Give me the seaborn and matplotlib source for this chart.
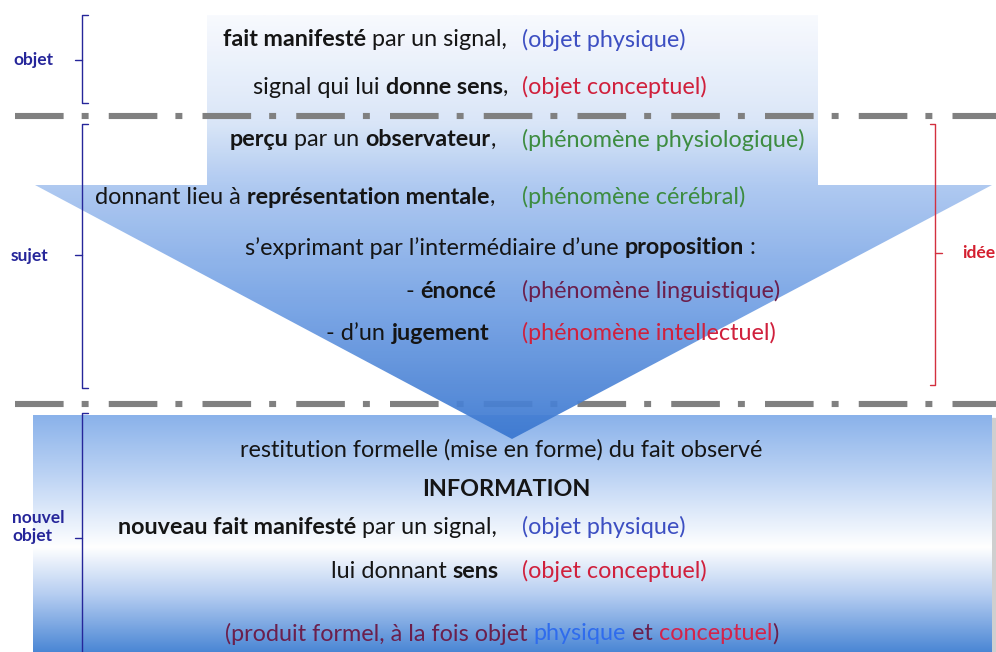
import matplotlib
matplotlib.use("Agg")
import numpy as np
import matplotlib.pyplot as plt
import seaborn as sns
from matplotlib.colors import LinearSegmentedColormap
from matplotlib.patches import Polygon, Rectangle

# --- content -------------------------------------------------------------
DARK = "#151515"
BLUE = "#3d4fc2"
RED = "#d0203c"
GREEN = "#3d8c40"
MAROON = "#6b1f4c"

left_parts = [
    [("fait manifesté", "bold"), (" par un signal,", "normal")],
    [("signal qui lui ", "normal"), ("donne sens", "bold"), (",", "normal")],
    [("perçu", "bold"), (" par un ", "normal"), ("observateur", "bold"), (",", "normal")],
    [("donnant lieu à ", "normal"), ("représentation mentale", "bold"), (",", "normal")],
    [("- ", "normal"), ("énoncé", "bold")],
    [("- d\u2019un ", "normal"), ("jugement", "bold")],
    [("nouveau fait manifesté", "bold"), (" par un signal,", "normal")],
    [("lui donnant ", "normal"), ("sens", "bold")],
]
right_text = [
    "(objet physique)",
    "(objet conceptuel)",
    "(phénomène physiologique)",
    "(phénomène cérébral)",
    "(phénomène linguistique)",
    "(phénomène intellectuel)",
    "(objet physique)",
    "(objet conceptuel)",
]
right_colors = [BLUE, RED, GREEN, GREEN, MAROON, RED, BLUE, RED]

proposition_line = [("s\u2019exprimant par l\u2019intermédiaire d\u2019une ", "normal"),
                    ("proposition", "bold"), (" :", "normal")]
restitution_line = "restitution formelle (mise en forme) du fait observé"
information_line = "INFORMATION"
produit_line = [("(produit formel, à la fois objet ", MAROON), ("physique", "#2f6ced"),
                (" et ", MAROON), ("conceptuel", "#d4234a"), (")", MAROON)]

side_labels = ["objet", "sujet", "nouvel\nobjet"]
idea_label = "idée"

# --- layout (pixels) -----------------------------------------------------
W, H = 996, 652
FS = 16.8
LFS = 12.5
row_y = [40, 87, 140, 197, 291, 333, 527, 571]
row_right_edge = [507, 508, 496, 495, 496, 489, 497, 499]
col2_x = 522

sns.set_theme(style="white")
plt.rcParams["font.family"] = ["Lato", "DejaVu Sans"]
plt.rcParams["lines.scale_dashes"] = False

fig = plt.figure(figsize=(W / 100, H / 100), dpi=100)
ax = fig.add_axes([0, 0, 1, 1])
ax.set_axis_off()
renderer = fig.canvas.get_renderer()


def gradient(stops, y0, y1, x0, x1, clip, z, alpha=1.0):
    cmap = LinearSegmentedColormap.from_list("g", stops)
    img = cmap(np.linspace(0, 1, 256))[:, None, :3]
    im = ax.imshow(img, origin="lower", extent=(x0, x1, y0, y1),
                   aspect="auto", zorder=z, alpha=alpha, interpolation="bilinear")
    im.set_clip_path(clip)
    return im


# bottom box (with a faint shadow)
ax.add_patch(Rectangle((36, 418), 959, 236, color="#cfcfcf", zorder=1))
box = Rectangle((33, 415), 959, 240, facecolor="none", edgecolor="none", zorder=2)
ax.add_patch(box)
gradient([(0.0, "#8ab2ea"), (0.25, "#bcd3f4"), (0.55, "#ffffff"),
          (0.75, "#b5cdf1"), (1.0, "#4583d3")], 415, 655, 33, 992, box, 2)

# arrow
arrow_pts = [(207, 15), (818, 15), (818, 185), (992, 185), (512, 439),
             (35, 185), (207, 185)]
arrow = Polygon(arrow_pts, closed=True, facecolor="none", edgecolor="none", zorder=4)
ax.add_patch(arrow)
gradient([(0.0, "#f8fafe"), (0.25, "#d8e5f8"), (0.40, "#aac6f0"),
          (0.65, "#79a5e6"), (1.0, "#3a77d0")], 15, 439, 35, 992, arrow, 4, alpha=0.93)

# dash-dot separators
sep_style = (0, (35, 13, 5, 14.5))
sns.lineplot(x=[15, W], y=[116, 116], ax=ax, color="#808080", linewidth=4.4,
             linestyle=sep_style, solid_capstyle="butt", zorder=6)
sns.lineplot(x=[15, W], y=[404, 404], ax=ax, color="#808080", linewidth=4.4,
             linestyle=sep_style, solid_capstyle="butt", zorder=3)

# brackets
NAVY = "#26269a"
for top, bot, mid in [(15, 103, 60), (124, 388, 255), (413, 660, 538)]:
    ax.plot([88, 82, 82, 88], [top, top, bot, bot], color=NAVY, lw=1.0, zorder=7)
    ax.plot([75, 82], [mid, mid], color=NAVY, lw=1.0, zorder=7)
ax.plot([930, 935, 935, 930], [124, 124, 385, 385], color="#d3303f", lw=1.0, zorder=7)
ax.plot([935, 942], [253, 253], color="#d3303f", lw=1.0, zorder=7)

ax.text(13, 60, side_labels[0], fontsize=LFS, fontweight="bold", color=NAVY, va="center")
ax.text(11, 256, side_labels[1], fontsize=LFS, fontweight="bold", color=NAVY, va="center")
ax.text(12, 527, side_labels[2], fontsize=LFS, fontweight="bold", color=NAVY,
        va="center", linespacing=1.1)
ax.text(962, 253, idea_label, fontsize=LFS, fontweight="bold", color="#d41f2f", va="center")

# --- rich text helper -----------------------------------------------------
probe_a = ax.text(0, 0, "n n", fontsize=FS)
probe_b = ax.text(0, 0, "nn", fontsize=FS)
SPACE = probe_a.get_window_extent(renderer).width - probe_b.get_window_extent(renderer).width
probe_a.remove()
probe_b.remove()


def rich(parts, x, y, align="left"):
    # parts: (text, weight, color)
    arts, pos, cur = [], [], 0.0
    for s, w, c in parts:
        lead = len(s) - len(s.lstrip(" "))
        trail = len(s) - len(s.rstrip(" "))
        t = ax.text(0, y, s.strip(" "), fontsize=FS, fontweight=w, color=c,
                    va="center", ha="left", zorder=10)
        cur += lead * SPACE
        pos.append(cur)
        cur += t.get_window_extent(renderer).width + trail * SPACE
        arts.append(t)
    x0 = x - cur if align == "right" else (x - cur / 2 if align == "center" else x)
    for t, p in zip(arts, pos):
        t.set_x(x0 + p)


for parts, txt, col, y, xr in zip(left_parts, right_text, right_colors, row_y, row_right_edge):
    rich([(s, w, DARK) for s, w in parts], xr, y, "right")
    ax.text(col2_x, y, txt, fontsize=FS, color=col, va="center", ha="left", zorder=10)

rich([(s, w, DARK) for s, w in proposition_line], 245, 248, "left")
ax.text(501, 450, restitution_line, fontsize=FS, color=DARK, va="center", ha="center", zorder=10)
ax.text(506, 490, information_line, fontsize=FS, fontweight="bold", color=DARK,
        va="center", ha="center", zorder=10)
rich([(s, "normal", c) for s, c in produit_line], 225, 634, "left")

ax.set_xlim(0, W)
ax.set_ylim(H, 0)
fig.savefig("out.png", dpi=100)
